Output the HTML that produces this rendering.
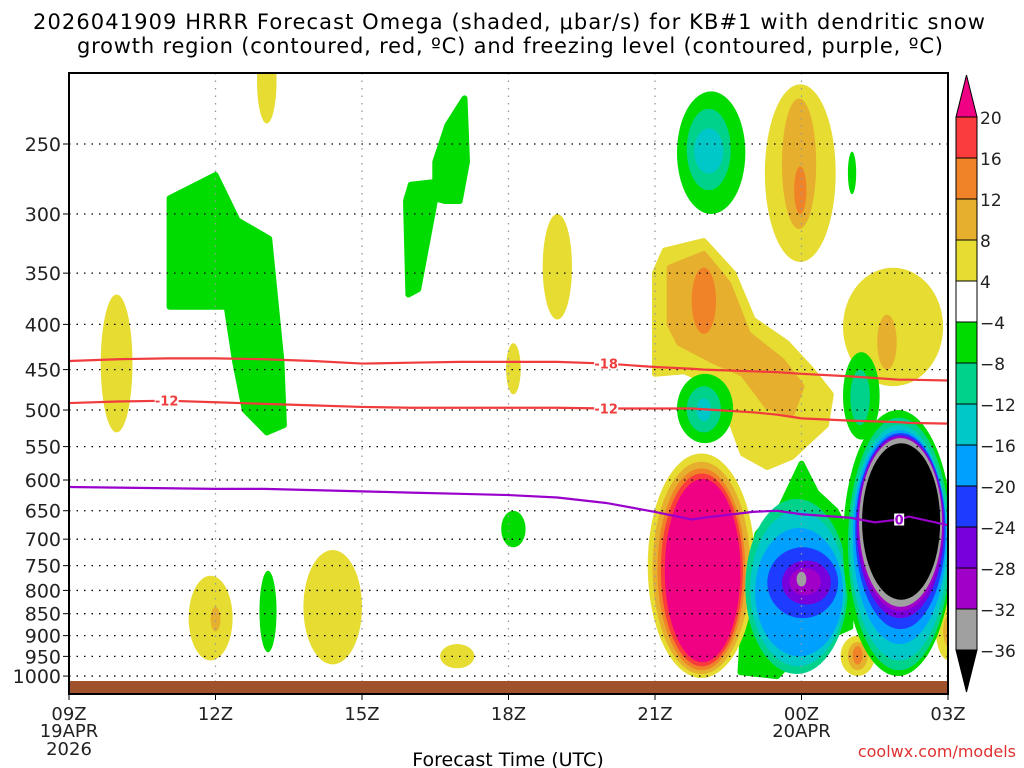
<!DOCTYPE html>
<html><head><meta charset="utf-8">
<style>
html,body{margin:0;padding:0;background:#fff;}
svg{display:block;font-family:"DejaVu Sans","Liberation Sans",sans-serif;}
</style></head>
<body>
<svg id="chart" width="1024" height="768" viewBox="0 0 1024 768" xmlns="http://www.w3.org/2000/svg">
<text x="33" y="29" font-size="21" textLength="952" lengthAdjust="spacing" fill="#000">2026041909 HRRR Forecast Omega (shaded, μbar/s) for KB#1 with dendritic snow</text>
<text x="77" y="53" font-size="21" textLength="866" lengthAdjust="spacing" fill="#000">growth region (contoured, red, ºC) and freezing level (contoured, purple, ºC)</text>
<defs><clipPath id="plotclip"><rect x="69" y="73" width="879" height="621"/></clipPath></defs>
<g id="shading" clip-path="url(#plotclip)"></g>
<g id="grid"></g>
<g id="ground"></g>
<g id="lines" clip-path="url(#plotclip)"></g>
<g id="axes"></g>
<g id="cbar"></g>
<text x="508" y="766" font-size="19" text-anchor="middle">Forecast Time (UTC)</text>
<text x="1016" y="757" font-size="16" text-anchor="end" fill="#e03030">coolwx.com/models</text>
</svg>
<script>
const NS="http://www.w3.org/2000/svg";
// ---- data ----
const pressureTicks=[250,300,350,400,450,500,550,600,650,700,750,800,850,900,950,1000];
const timeTickHours=[0,3,6,9,12,15,18];
const timeTickLabels=["09Z","12Z","15Z","18Z","21Z","00Z","03Z"];
const cbarLevels=[20,16,12,8,4,-4,-8,-12,-16,-20,-24,-28,-32,-36];
const levelColors={"20":"#f00082","16":"#fa3c3c","12":"#f08228","8":"#e6af2d","4":"#e6dc32","-4":"#00dc00","-8":"#00d28c","-12":"#00c8c8","-16":"#00a0ff","-20":"#1e3cff","-24":"#7800dc","-28":"#a000c8","-32":"#a0a0a0","-36":"#000000"};
const cbarColors=["#fa3c3c","#f08228","#e6af2d","#e6dc32","#ffffff","#00dc00","#00d28c","#00c8c8","#00a0ff","#1e3cff","#7800dc","#a000c8","#a0a0a0"];
// polygons [hour,pressure], level
const polyB=[[2.06,288],[3.0,271],[3.45,305],[4.1,320],[4.35,440],[4.4,520],[4.05,530],[3.6,500],[3.4,440],[3.23,382],[2.06,382]];
const polyD=[[6.95,370],[6.9,290],[7.0,278],[7.5,276],[7.5,262],[7.75,238],[8.1,222],[8.15,262],[8.0,290],[7.7,290],[7.5,288],[7.3,330],[7.15,365]];
const polyMyellow=[[12,350],[12.2,330],[13,322],[13.6,350],[14,395],[14.7,420],[15.2,450],[15.6,480],[15.5,520],[15.1,545],[14.8,565],[14.3,580],[13.8,560],[13.3,470],[12.6,452],[12,455]];
const polyMgold=[[12.3,345],[13,333],[13.5,360],[13.9,410],[14.6,440],[15.0,470],[14.8,505],[14.3,495],[13.8,455],[13.2,440],[12.5,420],[12.3,400]];
const polyRgreen=[[13.75,990],[13.85,800],[14.1,690],[14.6,640],[15,575],[15.3,620],[15.7,650],[16,700],[16,880],[15.6,900],[15.2,920],[14.8,960],[14.5,1000]];
const polygons=[[polyB,-4],[polyD,-4],[polyMyellow,4],[polyMgold,8],[polyRgreen,-4]];
// elliptical rings: [hourLeft, hourRight, pressureTop, pressureBottom, level]
const rings=[
[0.65,1.3,370,530,4],
[3.85,4.25,190,237,4],
[9.7,10.3,300,395,4],
[8.95,9.25,420,480,4],
[8.85,9.35,650,715,-4],
[2.45,3.35,770,960,4],[2.9,3.1,835,890,8],
[3.9,4.25,760,940,-4],
[4.8,6.0,720,970,4],
[7.6,8.3,920,980,4],
[12.45,13.85,218,300,-4],[12.65,13.55,228,282,-8],[12.8,13.4,240,270,-12],
[12.75,13.25,345,410,12],
[14.25,15.7,214,340,4],[14.6,15.3,222,312,8],[14.85,15.1,265,300,12],
[12.45,13.6,455,545,-4],[12.65,13.35,470,530,-8],[12.85,13.15,485,515,-12],
[11.85,14.05,560,1005,4],[11.95,13.95,572,995,8],[12.05,13.85,582,985,12],[12.12,13.8,590,975,16],[12.2,13.75,598,965,20],
[13.85,15.95,630,995,-8],[13.95,15.9,650,975,-12],[14.05,15.85,680,950,-16],[14.3,15.75,715,860,-20],[14.6,15.6,740,830,-24],[14.75,15.4,755,810,-28],[14.9,15.1,762,792,-32],
[15.85,17.9,345,470,4],[16.55,16.95,390,450,8],
[15.85,16.6,430,540,-4],[16.0,16.4,450,520,-8],
[15.8,16.5,900,1000,4],[15.95,16.35,915,985,8],[16.05,16.25,925,970,12],
[15.95,16.12,255,285,-4],
[17.75,18.3,820,960,4],[17.9,18.2,850,930,8],
[15.85,18.1,500,1000,-4],[15.95,18.05,510,985,-8],[16.0,18.0,520,960,-12],[16.05,17.97,527,920,-16],[16.1,17.95,531,885,-20],[16.13,17.92,534,860,-24],[16.16,17.9,536,845,-28],[16.18,17.88,538,835,-32],[16.24,17.84,545,820,-36]
];
const lineHours=[0,1,2,3,4,5,6,7,8,9,10,11,12,12.75,13,14,14.5,15,16,16.5,17,17.2,18];
const iso18=[440,438,437,437,438,440,443,442,441,441,441,443,447,449,450,452,453,455,458,460,462,462,463];
const isoM12=[491,489,488,490,492,494,496,497,497,497,497,498,498,498,499,503,506,511,514,515,516,517,518];
const iso0=[611,612,613,614,614,616,618,620,622,624,628,637,652,665,662,652,650,656,662,670,665,660,675];
// ---- scales ----
const X=h=>69+h*(948-69)/18;
const Y=p=>144+383.8*Math.log(p/250);
function el(tag,attrs,parent){const e=document.createElementNS(NS,tag);for(const k in attrs)e.setAttribute(k,attrs[k]);parent.appendChild(e);return e;}
const shading=document.getElementById('shading');
polygons.forEach(([pts,lv])=>{
 const e=el('polygon',{points:pts.map(q=>X(q[0]).toFixed(1)+','+Y(q[1]).toFixed(1)).join(' '),fill:levelColors[lv],'stroke':levelColors[lv],'stroke-width':6,'stroke-linejoin':'round'},shading);
 
 
});
rings.forEach(r=>{
 const x0=X(r[0]),x1=X(r[1]),yt=Y(r[2]),yb=Y(r[3]),cx=(x0+x1)/2,rx=(x1-x0)/2,cy=(yt+yb)/2;
 const d=`M${x0},${cy} A${rx},${cy-yt} 0 0 1 ${x1},${cy} A${rx},${yb-cy} 0 0 1 ${x0},${cy}Z`;
 const e=el('path',{d:d,fill:levelColors[r[4]]},shading);
 
 
});
// grid
const grid=document.getElementById('grid');
pressureTicks.forEach(p=>{
 const l=el('line',{x1:69,x2:948,y1:Y(p),y2:Y(p),stroke:'#000','stroke-width':1.3,'stroke-dasharray':'1.5 6'},grid);
 
 
});
timeTickHours.forEach(h=>{
 const l=el('line',{x1:X(h),x2:X(h),y1:73,y2:693,stroke:'#999','stroke-width':1.3,'stroke-dasharray':'1.5 6'},grid);
 
 
});
const gnd=el('rect',{x:69,y:681,width:879,height:13,fill:'#a0522d'},document.getElementById('ground'));


// lines
const lines=document.getElementById('lines');
function drawLine(vals,color,name){
 const e=el('polyline',{points:lineHours.map((h,i)=>X(h)+','+Y(vals[i])).join(' '),fill:'none',stroke:color,'stroke-width':2.2},lines);
 
 
}
drawLine(iso18,'#f03c3c','isotherm-minus-18');
drawLine(isoM12,'#f03c3c','isotherm-minus-12');
drawLine(iso0,'#9900cc','freezing-level');
function label(h,vals,txt,color,name,w){
 const i=lineHours.indexOf(h),x=X(h),y=Y(vals[i]);
 const r=el('rect',{x:x-w/2,y:y-6,width:w,height:12,fill:'#fff'},lines);
 
 
 const t=el('text',{x:x,y:y+5,'font-size':13,'font-weight':'bold','text-anchor':'middle',fill:color},lines);
 t.textContent=txt;
 
 
}
label(11,iso18,'-18','#f03c3c','label-minus-18',24);
label(2,isoM12,'-12','#f03c3c','label-minus-12-left',24);
label(11,isoM12,'-12','#f03c3c','label-minus-12-right',24);
label(17,iso0,'0','#9900cc','label-zero',10);
// axes
const axes=document.getElementById('axes');
const fr=el('rect',{x:69,y:73,width:879,height:621,fill:'none',stroke:'#000','stroke-width':2},axes);


pressureTicks.forEach(p=>{
 const t=el('text',{x:61,y:Y(p)+7,'font-size':19,'text-anchor':'end',fill:'#222'},axes);
 t.textContent=p;
 
 
 const k=el('line',{x1:63,x2:69,y1:Y(p),y2:Y(p),stroke:'#000'},axes);
 
 
});
timeTickHours.forEach((h,i)=>{
 const k=el('line',{x1:X(h),x2:X(h),y1:694,y2:700,stroke:'#000'},axes);
 
 
 const t=el('text',{x:X(h),y:720,'font-size':18,'text-anchor':'middle',fill:'#222'},axes);
 t.textContent=timeTickLabels[i];
 
 
});
[[0,'19APR',737],[0,'2026',755],[15,'20APR',737]].forEach(a=>{
 const t=el('text',{x:X(a[0]),y:a[2],'font-size':18,'text-anchor':'middle',fill:'#222'},axes);
 t.textContent=a[1];
 
 
});
// colorbar
const cb=document.getElementById('cbar');
const cbx=956,cbw=21,cbTop=117,step=41;
const up=el('polygon',{points:`${cbx},${cbTop} ${cbx+cbw},${cbTop} ${cbx+cbw/2},${cbTop-42}`,fill:levelColors["20"],stroke:'#000'},cb);


cbarColors.forEach((c,i)=>{
 const r=el('rect',{x:cbx,y:cbTop+i*step,width:cbw,height:step,fill:c,stroke:'#000'},cb);
 
 
});
const bot=cbTop+cbarColors.length*step;
const dn=el('polygon',{points:`${cbx},${bot} ${cbx+cbw},${bot} ${cbx+cbw/2},${bot+42}`,fill:'#000',stroke:'#000'},cb);


cbarLevels.forEach((v,i)=>{
 const t=el('text',{x:980,y:cbTop+i*step+7,'font-size':17,fill:'#222'},cb);
 t.textContent=v<0?'\u2212'+(-v):String(v);
 
 
});
</script>
</body></html>
